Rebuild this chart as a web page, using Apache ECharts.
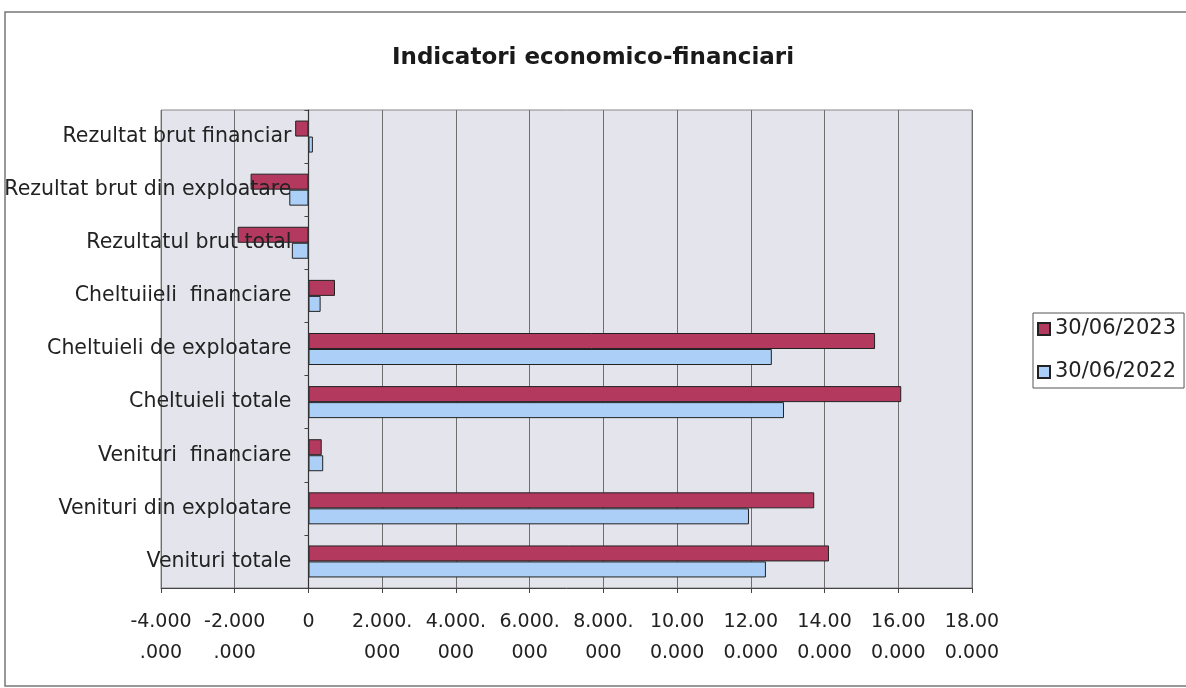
<!DOCTYPE html>
<html>
<head>
<meta charset="utf-8">
<script src="https://cdn.jsdelivr.net/npm/echarts@6/dist/echarts.min.js"></script>
<style>
html,body{margin:0;padding:0;background:#fff;}
#chart{width:1186px;height:688px;}
</style>
</head>
<body>
<div id="chart"></div>
<script>
const categories = ['Venituri totale', 'Venituri din exploatare', 'Venituri  financiare', 'Cheltuieli totale', 'Cheltuieli de exploatare', 'Cheltuiieli  financiare', 'Rezultatul brut total', 'Rezultat brut din exploatare', 'Rezultat brut financiar'];
const seriesNames = ['30/06/2023', '30/06/2022'];
const values2023 = [14120000, 13720000, 360000, 16080000, 15370000, 720000, -1920000, -1570000, -360000];
const values2022 = [12410000, 11950000, 400000, 12900000, 12570000, 330000, -450000, -520000, 120000];
const tickLabels = ['-4.000\n.000', '-2.000\n.000', '0', '2.000.\n000', '4.000.\n000', '6.000.\n000', '8.000.\n000', '10.00\n0.000', '12.00\n0.000', '14.00\n0.000', '16.00\n0.000', '18.00\n0.000'];
const axisMin = -4000000, axisMax = 18000000, axisStep = 2000000;

const gridLeft = 161, gridRight = 214, chartWidth = 1186;
const plotWidth = chartWidth - gridLeft - gridRight;
// shift the category axis (line, ticks, labels) onto the zero value
const zeroOffset = plotWidth * (0 - axisMin) / (axisMax - axisMin);

const chart = echarts.init(document.getElementById('chart'));
const FONT = 'DejaVu Sans';
chart.setOption({
  animation: false,
  backgroundColor: '#ffffff',
  title: {
    text: 'Indicatori economico-financiari',
    left: 'center',
    top: 42,
    textStyle: { fontFamily: FONT, fontWeight: 'bold', fontSize: 23, color: '#1a1a1a' }
  },
  graphic: [{
    type: 'rect',
    shape: { x: 5, y: 12, width: 1190, height: 674 },
    style: { fill: 'none', stroke: '#777', lineWidth: 1.5 },
    silent: true
  }],
  legend: {
    data: seriesNames,
    orient: 'vertical',
    left: 1033,
    top: 313,
    itemWidth: 12,
    itemHeight: 12,
    itemGap: 19,
    icon: 'rect',
    padding: [4, 8, 4, 4],
    backgroundColor: '#fff',
    borderColor: '#555',
    borderWidth: 1,
    textStyle: { fontFamily: FONT, fontSize: 21, color: '#222', lineHeight: 24 }
  },
  grid: {
    left: gridLeft, right: gridRight, top: 110, bottom: 100,
    containLabel: false, outerBoundsMode: 'none',
    show: true, backgroundColor: '#e3e4ec', borderColor: '#888', borderWidth: 1
  },
  xAxis: {
    type: 'value',
    min: axisMin, max: axisMax, interval: axisStep,
    axisLine: { show: true, lineStyle: { color: '#444', width: 1 } },
    axisTick: { show: true, length: 5, lineStyle: { color: '#444' } },
    splitLine: { show: true, lineStyle: { color: '#6e6e6e', width: 1 } },
    axisLabel: {
      margin: 19,
      showMinLabel: true, showMaxLabel: true,
      fontFamily: FONT, fontSize: 19, color: '#222', lineHeight: 31,
      formatter: function (v) { return tickLabels[Math.round((v - axisMin) / axisStep)]; }
    }
  },
  yAxis: {
    type: 'category',
    data: categories,
    offset: -zeroOffset,
    z: 5,
    axisLine: { show: true, onZero: false, lineStyle: { color: '#333', width: 1.2 } },
    axisTick: { show: true, length: 4, lineStyle: { color: '#444' } },
    splitLine: { show: false },
    axisLabel: {
      margin: 17,
      fontFamily: FONT, fontSize: 20.5, color: '#222'
    }
  },
  series: [{
    name: seriesNames[0],
    type: 'bar',
    data: values2023,
    barWidth: 16,
    barGap: '0%',
    itemStyle: { color: '#b3395f', borderColor: '#222', borderWidth: 1 }
  }, {
    name: seriesNames[1],
    type: 'bar',
    data: values2022,
    barWidth: 16,
    barGap: '0%',
    itemStyle: { color: '#abcff6', borderColor: '#222', borderWidth: 1 }
  }]
});
</script>
</body>
</html>
